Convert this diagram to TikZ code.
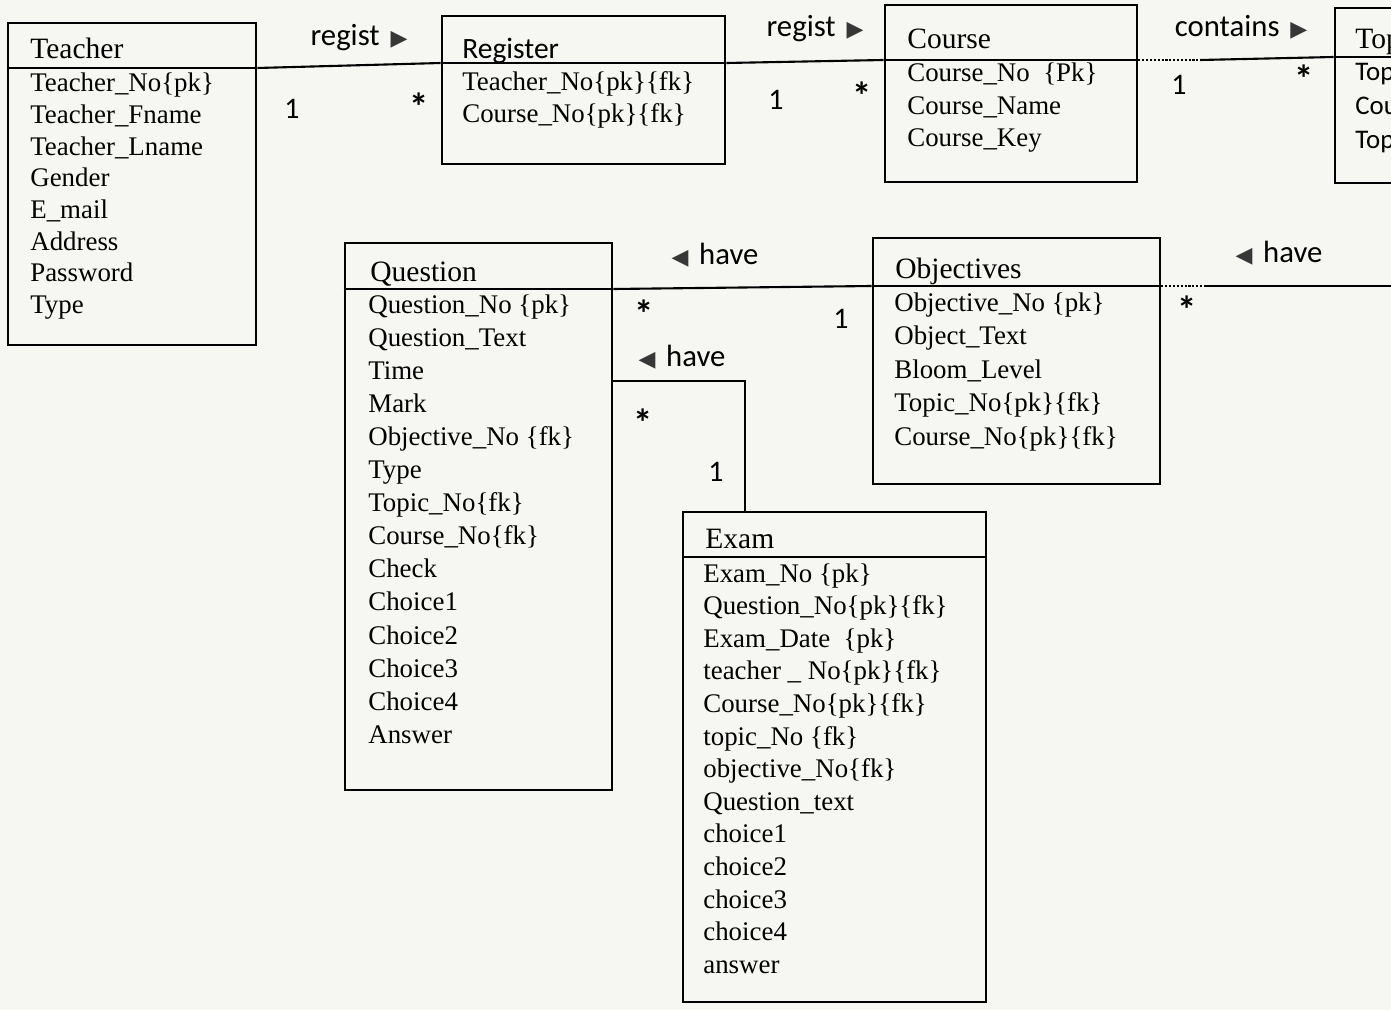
\documentclass[tikz,border=0pt]{standalone}
\usepackage{fontspec}
\setmainfont{Liberation Serif}
\newfontfamily\calib{Carlito}
\newfontfamily\symb{DejaVu Sans}
\usepackage{tikz}
\usetikzlibrary{fit}
\definecolor{paper}{RGB}{246,246,242}
\definecolor{tri}{RGB}{55,55,55}
\newcommand{\rtri}{{\symb\fontsize{12.5}{12}\selectfont\textcolor{tri}{▶}}}
\newcommand{\ltri}{{\symb\fontsize{12.5}{12}\selectfont\textcolor{tri}{◀}}}

\begin{document}
\begin{tikzpicture}[x=0.02cm, y=-0.02cm,
    box/.style={draw, line width=1.5pt, inner sep=0pt},
    boxline/.style={line width=1.5pt},
    link/.style={line width=1.2pt},
    attr/.style={anchor=base west, inner sep=0pt, font=\fontsize{15.3}{18}\selectfont},
    title/.style={anchor=base west, inner sep=0pt, font=\fontsize{16.8}{18}\selectfont},
    sattr/.style={anchor=base west, inner sep=0pt, font=\calib\fontsize{15.3}{18}\selectfont},
    lbl/.style={inner sep=0pt, font=\calib\fontsize{17.5}{20}\selectfont},
    mult/.style={inner sep=0pt, font=\calib\fontsize{17}{18}\selectfont},
    star/.style={inner sep=0pt, font=\calib\bfseries\fontsize{22}{22}\selectfont}]
        \useasboundingbox (0,0) rectangle (1391,1010);
        \clip (0,0) rectangle (1391,1010);
        \fill[paper] (0,0) rectangle (1391,1010);

        \node[box, fit={(8,23) (256,345)}] (teacher) {};
        \coordinate (teacherH) at (0,68);
        \draw[boxline] (teacher.west |- teacherH) -- (teacher.east |- teacherH);
        \node[title] (teacher-t) at (30,59) {Teacher};
        \foreach \a [count=\i from 0] in {Teacher\_No\{pk\},Teacher\_Fname,Teacher\_Lname,
            Gender,E\_mail,Address,Password,Type}
          \node[attr] (teacher-\i) at (30,{92+31.6*\i}) {\a};

        \node[box, fit={(442,16) (725,164)}] (register) {};
        \coordinate (registerH) at (0,63);
        \draw[boxline] (register.west |- registerH) -- (register.east |- registerH);
        \node[title, font=\calib\fontsize{16.8}{18}\selectfont] (register-t) at (462,59) {Register};
        \foreach \a [count=\i from 0] in {Teacher\_No\{pk\}\{fk\},Course\_No\{pk\}\{fk\}}
          \node[attr] (register-\i) at (462,{91+31.5*\i}) {\a};

        \node[box, fit={(885,5) (1137,182)}] (course) {};
        \coordinate (courseH) at (0,60);
        \draw[boxline] (course.west |- courseH) -- (course.east |- courseH);
        \node[title] (course-t) at (907,49) {Course};
        \foreach \a [count=\i from 0] in {Course\_No\ \ \{Pk\},Course\_Name,Course\_Key}
          \node[attr] (course-\i) at (907,{82+32.5*\i}) {\a};

        \node[box, fit={(1335,8) (1520,183)}] (topic) {};
        \coordinate (topicH) at (0,57);
        \draw[boxline] (topic.west |- topicH) -- (topic.east |- topicH);
        \node[title] (topic-t) at (1355,49) {Topic};
        \foreach \a [count=\i from 0] in {Topic\_No,Course\_No,Topic\_Name}
          \node[sattr] (topic-\i) at (1355,{81+34*\i}) {\a};

        \node[box, fit={(345,243) (612,790)}] (question) {};
        \coordinate (questionH) at (0,289);
        \draw[boxline] (question.west |- questionH) -- (question.east |- questionH);
        \node[title] (question-t) at (370,281) {Question};
        \foreach \a [count=\i from 0] in {Question\_No \{pk\},Question\_Text,Time,Mark,
            Objective\_No \{fk\},Type,Topic\_No\{fk\},Course\_No\{fk\},Check,
            Choice1,Choice2,Choice3,Choice4,Answer}
          \node[attr] (question-\i) at (368,{313+33.1*\i}) {\a};

        \node[box, fit={(873,238) (1160,484)}] (objectives) {};
        \coordinate (objectivesH) at (0,286);
        \draw[boxline] (objectives.west |- objectivesH) -- (objectives.east |- objectivesH);
        \node[title] (objectives-t) at (895,278) {Objectives};
        \foreach \a [count=\i from 0] in {Objective\_No \{pk\},Object\_Text,Bloom\_Level,
            Topic\_No\{pk\}\{fk\},Course\_No\{pk\}\{fk\}}
          \node[attr] (objectives-\i) at (894,{311+33.5*\i}) {\a};

        \node[box, fit={(683,512) (986,1002)}] (exam) {};
        \coordinate (examH) at (0,557);
        \draw[boxline] (exam.west |- examH) -- (exam.east |- examH);
        \node[title] (exam-t) at (705,548) {Exam};
        \foreach \a [count=\i from 0] in {Exam\_No \{pk\},Question\_No\{pk\}\{fk\},
            Exam\_Date\ \ \{pk\},teacher \_ No\{pk\}\{fk\},Course\_No\{pk\}\{fk\},
            topic\_No \{fk\},objective\_No\{fk\},Question\_text,
            choice1,choice2,choice3,choice4,answer}
          \node[attr] (exam-\i) at (703,{582+32.6*\i}) {\a};

        \draw[link] (teacher.east |- teacherH) -- (register.west |- registerH);
        \draw[link] (register.east |- registerH) -- (course.west |- courseH);
        \draw[link, densely dotted] (course.east |- courseH) -- +(62,0);
        \draw[link] (course.east |- courseH) ++(62,0) -- (topic.west |- topicH);
        \draw[link] (question.east |- questionH) -- (objectives.west |- objectivesH);
        \coordinate (objOut) at (1400,286);
        \draw[link, densely dotted] (objectives.east |- objectivesH) -- +(45,0);
        \draw[link] (objectives.east |- objectivesH) ++(45,0) -- (objOut);
        \coordinate (qe) at (745,381);
        \draw[link] (question.east |- qe) -- (qe) -- (exam.north -| qe);

        \node[lbl] (regist1) at (359,38) {regist\hspace{0.35em}\rtri};
        \node[mult] (m1) at (292,109) {1};
        \node[star] (m2) at (419,107) {*};
        \node[lbl] (regist2) at (815,29) {regist\hspace{0.35em}\rtri};
        \node[mult] (m3) at (776,100) {1};
        \node[star] (m4) at (862,96) {*};
        \node[lbl] (contains) at (1241,27) {contains\hspace{0.35em}\rtri};
        \node[mult] (m5) at (1179,85) {1};
        \node[star] (m6) at (1304,79) {*};
        \node[lbl] (have1) at (715,255) {\ltri\hspace{0.35em}have};
        \node[star] (m7) at (644,314) {*};
        \node[mult] (m8) at (841,319) {1};
        \node[lbl] (have2) at (1279,253) {\ltri\hspace{0.35em}have};
        \node[star] (m9) at (1187,310) {*};
        \node[lbl] (have3) at (682,357) {\ltri\hspace{0.35em}have};
        \node[star] (m10) at (643,423) {*};
        \node[mult] (m11) at (716,472) {1};
      \end{tikzpicture}
\end{document}
